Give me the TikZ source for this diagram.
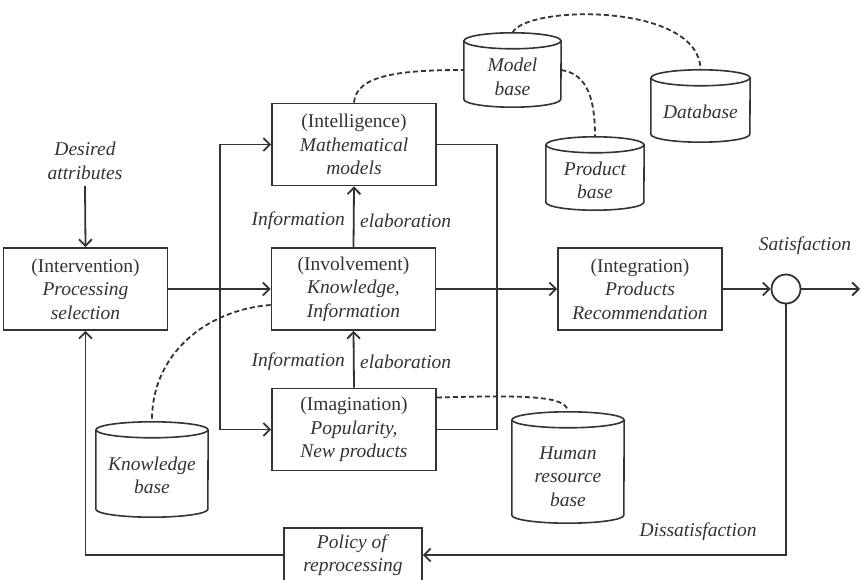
\documentclass[tikz,border=0pt]{standalone}
\usepackage{fontspec}
\setmainfont{Liberation Serif}
\usetikzlibrary{arrows.meta}
\definecolor{ink}{HTML}{333333}
\tikzset{
  box/.style={draw=ink, line width=1.8pt, minimum width=164pt, minimum height=82pt,
    inner sep=0pt, align=center, text=ink, font=\fontsize{19.5}{23.5}\selectfont},
  flow/.style={draw=ink, line width=1.8pt},
  arr/.style={flow, -{Straight Barb[length=6.5pt,width=13pt,line width=1.8pt]}},
  link/.style={draw=ink, line width=1.8pt, dash pattern=on 5pt off 3pt},
  lbl/.style={text=ink, font=\fontsize{19.5}{23.5}\selectfont\itshape, align=center, inner sep=0pt},
  dbarea/.style={inner sep=0pt, draw=none},
  dbline/.style={draw=ink, line width=1.6pt},
}
% database cylinder: name, cx, cy, width, height, text drop, text
\newcommand{\storecyl}[7]{%
  \node[dbarea, minimum width=#4pt, minimum height=#5pt] (#1) at (#2,#3) {};
  \draw[dbline] ([yshift=-8pt]#1.north west) -- ([yshift=8pt]#1.south west)
     arc[start angle=180, end angle=0, x radius=#4/2, y radius=8]
     -- ([yshift=-8pt]#1.north east);
  \draw[dbline] ([yshift=-8pt]#1.north) ellipse[x radius=#4/2, y radius=8];
  \node[lbl] at ([yshift=-#6pt]#1.center) {#7};
}
\begin{document}
\begin{tikzpicture}[x=1pt, y=-1pt]
\useasboundingbox (0,0) rectangle (862,580);

% process boxes
\node[box] (intv)  at (85.5,289) {(Intervention)\\\textit{Processing}\\\textit{selection}};
\node[box] (intel) at (354,144.5) {(Intelligence)\\\textit{Mathematical}\\\textit{models}};
\node[box] (inv)   at (353.5,289) {(Involvement)\\\textit{Knowledge,}\\\textit{Information}};
\node[box] (imag)  at (354,429.5) {(Imagination)\\\textit{Popularity,}\\\textit{New products}};
\node[box] (integ) at (640,289) {(Integration)\\\textit{Products}\\\textit{Recommendation}};
\node[box, minimum width=138pt, minimum height=54pt] (pol) at (353,555)
  {\textit{Policy of}\\\textit{reprocessing}};
\node[draw=ink, line width=1.8pt, circle, minimum size=29pt, inner sep=0pt] (sat) at (786,289) {};

% data stores
\storecyl{mb}{512.5}{70}{97}{74}{7}{Model\\base}
\storecyl{db}{700.5}{106}{99}{72}{6}{Database}
\storecyl{pb}{595}{173.5}{98}{73}{7}{Product\\base}
\storecyl{kb}{152}{469.5}{112}{95}{6}{Knowledge\\base}
\storecyl{hr}{568}{467.5}{112}{111}{9}{Human\\resource\\base}

% text labels
\node[lbl] (des) at (85,161) {Desired\\attributes};
\node[lbl, anchor=east] (inf1) at (345,221) {Information};
\node[lbl, anchor=west] (ela1) at (360,221) {elaboration};
\node[lbl, anchor=east] (inf2) at (345,362) {Information};
\node[lbl, anchor=west] (ela2) at (360,362) {elaboration};
\node[lbl] (satl) at (805,246) {Satisfaction};
\node[lbl] (dis) at (698,532) {Dissatisfaction};

% bus coordinates
\coordinate (bl) at (220,289);
\coordinate (br) at (497,289);
\coordinate (outp) at (860,289);

% main flow
\draw[arr] ([yshift=-6pt]des.south) -- (intv.north);
\draw[arr] (intv.east) -- (inv.west);
\draw[flow] (intel.west -| bl) -- (imag.west -| bl);
\draw[arr] (intel.west -| bl) -- (intel.west);
\draw[arr] (imag.west -| bl) -- (imag.west);
\draw[flow] (intel.east) -- (intel.east -| br) -- (imag.east -| br) -- (imag.east);
\draw[arr] (inv.north) -- (intel.south);
\draw[arr] (imag.north) -- (inv.south);
\draw[arr] (inv.east) -- (integ.west);
\draw[arr] (integ.east) -- (sat.west);
\draw[arr] (sat.east) -- (outp);

% feedback loop
\draw[arr] (sat.south) |- (pol.east);
\draw[arr] (pol.west) -| (intv.south);

% dashed links to the data stores
\draw[link] (intel.north) .. controls (356,75) and (400,70) .. (mb.west);
\draw[link] (mb.north) .. controls (525,5) and (700,2) .. (db.north);
\draw[link] (mb.east) .. controls (588,74) and (595,100) .. (pb.north);
\draw[link] ([yshift=-16pt]inv.west) .. controls (205,310) and (151,355) .. (kb.north);
\draw[link] ([yshift=32pt]imag.east) .. controls (530,395) and (567,396) .. (hr.north);
\end{tikzpicture}
\end{document}
